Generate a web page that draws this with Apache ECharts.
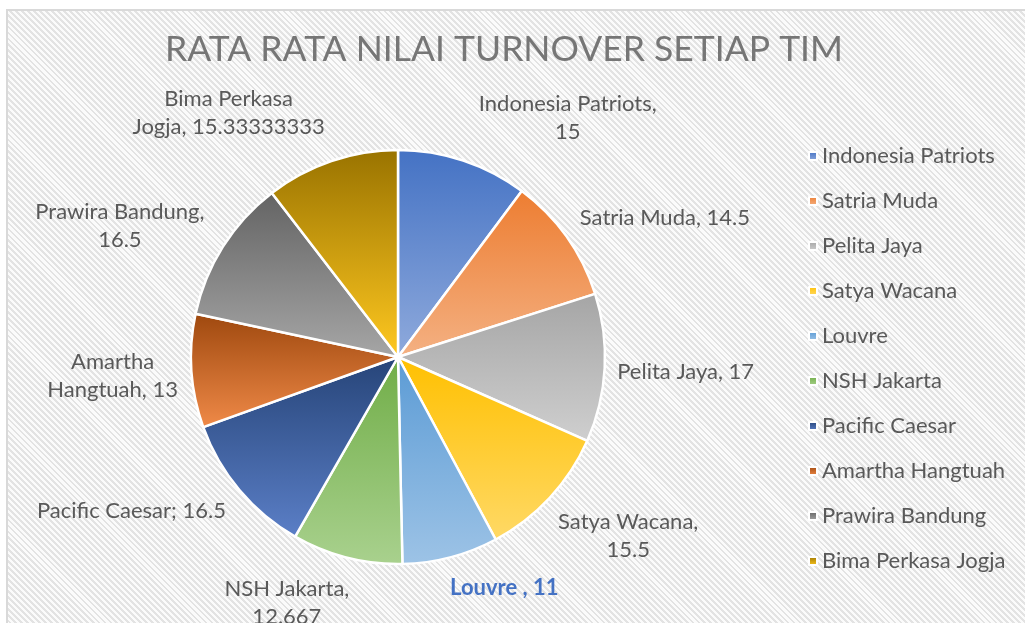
<!doctype html>
<html>
<head>
<meta charset="utf-8">
<script src="https://cdn.jsdelivr.net/npm/echarts@6/dist/echarts.min.js"></script>
<title>Rata rata nilai turnover setiap tim</title>
<style>
	body { margin: 0; background: #fff; }
	#bg {
		position: absolute; left: 6px; top: 9px; width: 1030px; height: 620px;
		border-left: 2px solid #d9d9d9; border-top: 2px solid #d9d9d9;
		background: repeating-linear-gradient(45deg, #fbfbfb 0px, #fbfbfb 2.2px, #e3e3e3 2.2px, #e3e3e3 4.2px);
	}
	#chart { position: absolute; left: 0; top: 0; width: 1025px; height: 623px; }
</style>
</head>
<body>
<div id="bg"></div>
<div id="chart"></div>
<script>
// data
var teams = ['Indonesia Patriots', 'Satria Muda', 'Pelita Jaya', 'Satya Wacana', 'Louvre',
	'NSH Jakarta', 'Pacific Caesar', 'Amartha Hangtuah', 'Prawira Bandung', 'Bima Perkasa Jogja'];
var values = [15, 14.5, 17, 15.5, 11, 12.667, 16.5, 13, 16.5, 15.33333333];
var labelTexts = ['Indonesia Patriots,\n15', 'Satria Muda, 14.5', 'Pelita Jaya, 17', 'Satya Wacana,\n15.5',
	'Louvre , 11', 'NSH Jakarta,\n12.667', 'Pacific Caesar; 16.5', 'Amartha\nHangtuah, 13',
	'Prawira Bandung,\n16.5', 'Bima Perkasa\nJogja, 15.33333333'];

// gradient top -> bottom for each slice
var shades = [
	['#4472C4', '#8FAADC'], ['#ED7D31', '#F4B183'], ['#A5A5A5', '#CFCFCF'], ['#FFC000', '#FFD966'],
	['#5B9BD5', '#9DC3E6'], ['#70AD47', '#A9D18E'], ['#264478', '#5B7FC7'], ['#9E480E', '#F08A48'],
	['#636363', '#A6A6A6'], ['#997300', '#FFC820']
];

var cx = 398, cy = 357, R = 207;
var total = values.reduce(function (a, b) { return a + b }, 0);

// small angle shifts so labels spread like the original
var nudge = [17, 8, 0, -5, -10, 10, 10, 0, -7, -16];

function place_label(params) {
	var i = params.dataIndex;
	var before = 0;
	for (var k = 0; k < i; k++) before += values[k];
	var a = ((before + values[i] / 2) / total * 360 + nudge[i]) * Math.PI / 180;
	var s = Math.sin(a), c = Math.cos(a);
	var w = params.labelRect.width, h = params.labelRect.height;
	var d = R + 12 + w / 2 * Math.abs(s) + h / 2 * Math.abs(c);
	return { x: cx + s * d, y: cy - c * d, align: 'center', verticalAlign: 'middle' };
}

var data = teams.map(function (name, i) {
	var item = {
		name: name,
		value: values[i],
		itemStyle: {
			color: new echarts.graphic.LinearGradient(0, 0, 0, 1, [
				{ offset: 0, color: shades[i][0] },
				{ offset: 1, color: shades[i][1] }
			])
		},
		label: { formatter: labelTexts[i] }
	};
	if (name === 'Louvre') {
		item.label.color = '#4472C4';
		item.label.fontWeight = 'bold';
	}
	return item;
});

var chart = echarts.init(document.getElementById('chart'));

var option = {
	backgroundColor: 'transparent',
	title: {
		text: 'RATA RATA NILAI TURNOVER SETIAP TIM',
		left: 499,
		top: 27,
		textAlign: 'center',
		textStyle: { fontFamily: 'Lato', fontWeight: 400, fontSize: 35.5, color: '#767676' }
	},
	legend: {
		orient: 'vertical',
		left: 803,
		top: 139,
		itemWidth: 8,
		itemHeight: 8,
		itemGap: 21,
		icon: 'rect',
		textStyle: { fontFamily: 'Lato', fontSize: 22, color: '#595959', lineHeight: 24 },
		data: teams
	},
	series: [{
		type: 'pie',
		center: [cx, cy],
		radius: R,
		startAngle: 90,
		clockwise: true,
		animation: false,
		itemStyle: { borderColor: '#fff', borderWidth: 2.5 },
		label: {
			show: true,
			position: 'outside',
			fontFamily: 'Lato',
			fontSize: 22,
			lineHeight: 28,
			color: '#595959',
			overflow: 'none',
			edgeDistance: 0,
			bleedMargin: 0
		},
		labelLine: { show: false },
		labelLayout: place_label,
		emphasis: { disabled: true },
		data: data
	}]
};

chart.setOption(option);
</script>
</body>
</html>
